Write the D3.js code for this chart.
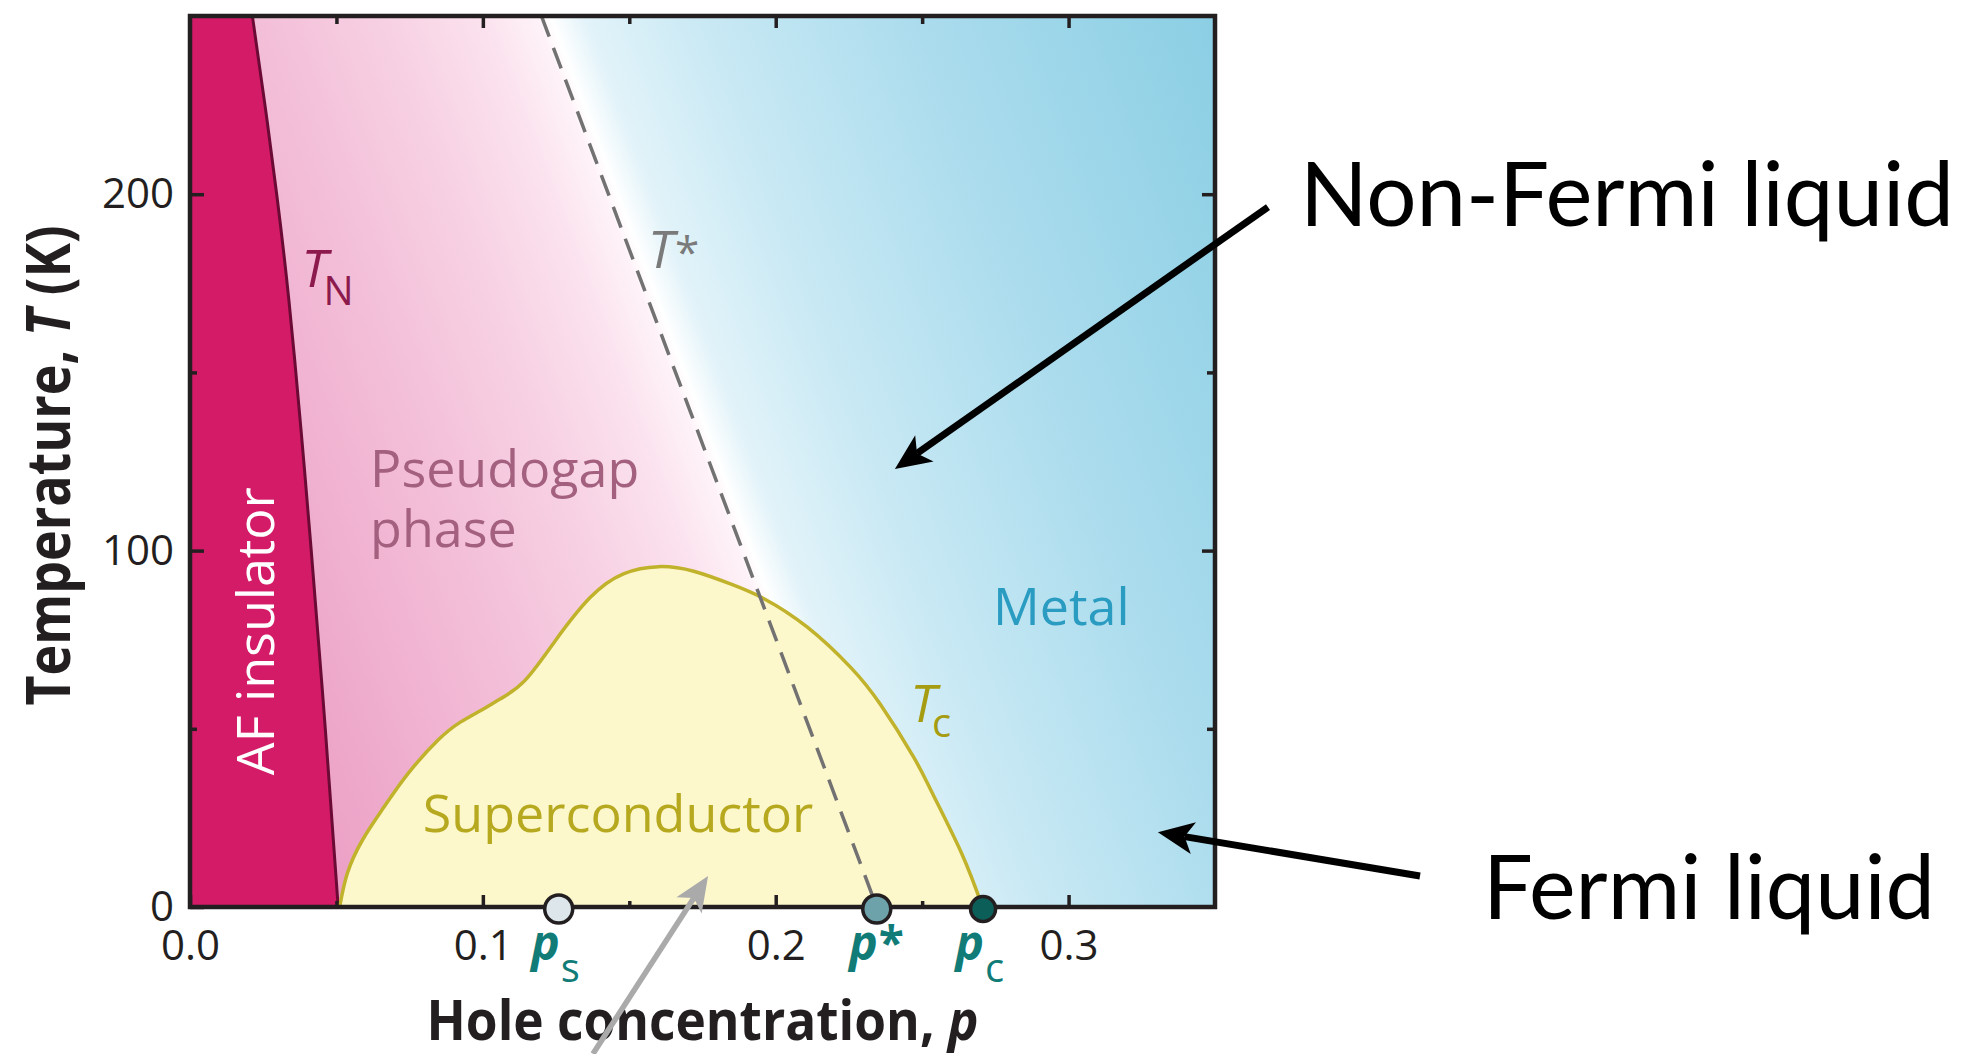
<!DOCTYPE html>
<html>
<head>
<meta charset="utf-8">
<script src="https://cdn.jsdelivr.net/npm/d3@7"></script>
<style>
body { margin: 0; background: #fff; }
svg { display: block; }
</style>
</head>
<body>
<div id="chart"></div>
<script>
var pTicks = [0, 0.1, 0.2, 0.3];
var pMinorTicks = [0.05, 0.15, 0.25];
var tTicks = [0, 100, 200];
var tMinorTicks = [50, 150];

// Neel temperature T_N(p), bottom to top
var tnLine = [[0.0506, 0], [0.0462, 50], [0.0414, 100], [0.0380, 133], [0.0338, 170],
	[0.0296, 200], [0.0256, 225], [0.0213, 250]];

// superconducting dome T_c(p)
var tcDome = [[0.0511, 0], [0.0537, 9.4], [0.0589, 18.8], [0.0663, 28.1], [0.0745, 37.5],
	[0.0848, 46.9], [0.0922, 51.8], [0.0996, 55.3], [0.1060, 58.4], [0.1144, 63.6],
	[0.1248, 74.8], [0.1367, 86.9], [0.1480, 93.5], [0.1600, 95.5], [0.1720, 94.2],
	[0.1850, 90.5], [0.1960, 86.5], [0.2108, 78.5], [0.2255, 67.3], [0.2356, 57],
	[0.2470, 42.2], [0.2535, 31.9], [0.2635, 15], [0.2706, 0]];

// pseudogap crossover T*(p)
var tStarLine = [[0.1200, 250], [0.2345, 0]];

var criticalNames = ["s", "*", "c"];
var criticalValues = [0.1259, 0.2345, 0.2708];

var W = 1987, H = 1054;
var fontMain = "'Open Sans', 'Noto Sans', sans-serif";
var fontNote = "Lato, 'Open Sans', sans-serif";
var ink = "#231f20";

var x = d3.scaleLinear().domain([0, 0.35]).range([190, 1215]);
var y = d3.scaleLinear().domain([0, 250]).range([907, 16]);

var svg = d3.select("#chart").append("svg").attr("width", W).attr("height", H)
		.style("background", "#fff");
var defs = svg.append("defs");

defs.append("clipPath").attr("id", "plotClip").append("rect")
		.attr("x", x(0)).attr("y", y(250)).attr("width", x(0.35) - x(0))
		.attr("height", y(0) - y(250));

// background gradient runs across the T* line (pink -> white -> blue)
var ax = x(tStarLine[0][0]), ay = y(tStarLine[0][1]);
var bx = x(tStarLine[1][0]), by = y(tStarLine[1][1]);
var vl = Math.sqrt((bx - ax) * (bx - ax) + (by - ay) * (by - ay));
var nx = (by - ay) / vl, ny = -(bx - ax) / vl;
var dMin = -510, dMax = 640;
var stops = [[-510, "#eb9fc4"], [-400, "#efadcd"], [-270, "#f3bed8"], [-150, "#f7d0e3"],
	[-60, "#fbe1ed"], [-5, "#fef2f8"], [8, "#ffffff"], [40, "#e2f3f9"],
	[150, "#c9e9f4"], [350, "#abdced"], [640, "#8acee4"]];

var grad = defs.append("linearGradient").attr("id", "bgGrad")
		.attr("gradientUnits", "userSpaceOnUse")
		.attr("x1", bx + nx * dMin).attr("y1", by + ny * dMin)
		.attr("x2", bx + nx * dMax).attr("y2", by + ny * dMax);
stops.forEach(function(s) {
	grad.append("stop").attr("offset", (s[0] - dMin) / (dMax - dMin)).attr("stop-color", s[1]);
});

var plot = svg.append("g").attr("clip-path", "url(#plotClip)");

plot.append("rect").attr("x", x(0)).attr("y", y(250)).attr("width", x(0.35) - x(0))
		.attr("height", y(0) - y(250)).style("fill", "url(#bgGrad)");

var curvePath = d3.line().x(function(d) { return x(d[0]); }).y(function(d) { return y(d[1]); })
		.curve(d3.curveNatural);

// AF insulator region
var afArea = d3.area().y(function(d) { return y(d[1]); }).x0(x(0))
		.x1(function(d) { return x(d[0]); }).curve(d3.curveNatural);
plot.append("path").datum(tnLine).attr("d", afArea).style("fill", "#d31b67");
plot.append("path").datum(tnLine).attr("d", curvePath).style("fill", "none")
		.style("stroke", "#6b0a34").style("stroke-width", 3);

// superconducting dome
var domeArea = d3.area().x(function(d) { return x(d[0]); }).y0(y(0))
		.y1(function(d) { return y(d[1]); }).curve(d3.curveNatural);
plot.append("path").datum(tcDome).attr("d", domeArea).style("fill", "#fdf7cc");
plot.append("path").datum(tcDome).attr("d", curvePath).style("fill", "none")
		.style("stroke", "#c1b22c").style("stroke-width", 3.5);

// T* dashed line
plot.append("path").datum(tStarLine).attr("d", d3.line()
		.x(function(d) { return x(d[0]); }).y(function(d) { return y(d[1]); }))
		.style("fill", "none").style("stroke", "#727272").style("stroke-width", 3.5)
		.style("stroke-dasharray", "22,12");

// region labels
var labels = plot.append("g").style("font-family", fontMain).style("font-size", "52px");

function regionText(txt, p, t, color) {
	return labels.append("text").attr("x", x(p)).attr("y", y(t)).text(txt).style("fill", color);
}
regionText("Pseudogap", 0.0615, 117.9, "#a4607f");
regionText("phase", 0.0615, 101.1, "#a4607f");
regionText("Superconductor", 0.0795, 21, "#b6a91f");
regionText("Metal", 0.2742, 79, "#2b9cc1");

labels.append("text").attr("transform", "translate(" + x(0.0287) + "," + y(37) + ") rotate(-90)")
		.text("AF insulator").style("fill", "#fff");

function tempLabel(sub, p, t, color, subDy) {
	var tx = labels.append("text").attr("x", x(p)).attr("y", y(t)).style("fill", color);
	tx.append("tspan").style("font-style", "italic").text("T");
	if (sub === "*") {
		tx.append("tspan").attr("dx", 1).style("font-size", "44px").text("*");
	} else {
		tx.append("tspan").attr("dx", -4).attr("dy", subDy).style("font-size", "40px").text(sub);
	}
}
tempLabel("N", 0.0381, 174, "#8c1a4c", 18);
tempLabel("*", 0.1564, 179.3, "#7a7a7a", 0);
tempLabel("c", 0.2459, 51.9, "#a69c12", 15);

// frame and ticks
svg.append("rect").attr("x", x(0)).attr("y", y(250)).attr("width", x(0.35) - x(0))
		.attr("height", y(0) - y(250)).style("fill", "none").style("stroke", ink)
		.style("stroke-width", 4.5);

function styleAxis(g) {
	g.select(".domain").remove();
	g.selectAll(".tick line").style("stroke", ink).style("stroke-width", 3.5);
	g.selectAll(".tick text").style("fill", ink).style("font-family", fontMain)
			.style("font-size", "42px");
}

svg.append("g").attr("transform", "translate(0," + y(0) + ")")
		.call(d3.axisBottom(x).tickValues(pTicks).tickSize(-12).tickPadding(23)
		.tickFormat(d3.format(".1f"))).call(styleAxis);
svg.append("g").attr("transform", "translate(0," + y(0) + ")")
		.call(d3.axisBottom(x).tickValues(pMinorTicks).tickSize(-6).tickFormat("")).call(styleAxis);
svg.append("g").attr("transform", "translate(0," + y(250) + ")")
		.call(d3.axisTop(x).tickValues(pTicks.slice(1)).tickSize(-12).tickFormat("")).call(styleAxis);
svg.append("g").attr("transform", "translate(0," + y(250) + ")")
		.call(d3.axisTop(x).tickValues(pMinorTicks).tickSize(-8).tickFormat("")).call(styleAxis);
svg.append("g").attr("transform", "translate(" + x(0) + ",0)")
		.call(d3.axisLeft(y).tickValues(tTicks).tickSize(-14).tickPadding(16)
		.tickFormat(d3.format("d"))).call(styleAxis);
svg.append("g").attr("transform", "translate(" + x(0) + ",0)")
		.call(d3.axisLeft(y).tickValues(tMinorTicks).tickSize(-7).tickFormat("")).call(styleAxis);
svg.append("g").attr("transform", "translate(" + x(0.35) + ",0)")
		.call(d3.axisRight(y).tickValues(tTicks.slice(1)).tickSize(-13).tickFormat("")).call(styleAxis);
svg.append("g").attr("transform", "translate(" + x(0.35) + ",0)")
		.call(d3.axisRight(y).tickValues(tMinorTicks).tickSize(-8).tickFormat("")).call(styleAxis);

// critical points on the axis
var dotFill = ["#dde6ea", "#6ea2aa", "#0c5e59"], dotR = [14, 14, 12.5];
var crit = svg.append("g");
criticalValues.forEach(function(p, i) {
	crit.append("circle").attr("cx", x(p)).attr("cy", y(0) + 2).attr("r", dotR[i])
			.style("fill", dotFill[i]).style("stroke", ink).style("stroke-width", 3.5);
	crit.append("text").attr("x", x(p) + 1).attr("y", 960).attr("text-anchor", "end")
			.style("font-family", fontMain).style("font-size", "48px").style("font-weight", "bold")
			.style("font-style", "italic").style("fill", "#117c77").text("p");
	var sub = crit.append("text").attr("x", x(p) + 2).style("font-family", fontMain)
			.style("fill", "#117c77").text(criticalNames[i]);
	if (criticalNames[i] === "*") {
		sub.attr("y", 960).style("font-size", "46px").style("font-weight", "bold");
	} else {
		sub.attr("y", 982).style("font-size", "40px");
	}
});

// axis titles
svg.append("text").attr("x", (x(0) + x(0.35)) / 2).attr("y", 1040).attr("text-anchor", "middle")
		.attr("textLength", 552).attr("lengthAdjust", "spacingAndGlyphs")
		.style("font-family", fontMain).style("font-size", "56px").style("font-weight", "bold")
		.style("fill", ink).text("Hole concentration, ")
		.append("tspan").style("font-style", "italic").text("p");

var yTitle = svg.append("text").attr("transform", "translate(70," + ((y(0) + y(250)) / 2 + 4) + ") rotate(-90)")
		.attr("text-anchor", "middle").attr("textLength", 480).attr("lengthAdjust", "spacingAndGlyphs")
		.style("font-family", fontMain).style("font-size", "60px").style("font-weight", "bold")
		.style("fill", ink);
yTitle.append("tspan").text("Temperature, ");
yTitle.append("tspan").style("font-style", "italic").text("T");
yTitle.append("tspan").text(" (K)");

// annotation arrows
function arrow(from, to, color, w, L, hw) {
	var x0 = x(from[0]), y0 = y(from[1]), x1 = x(to[0]), y1 = y(to[1]);
	var dx = x1 - x0, dy = y1 - y0, len = Math.sqrt(dx * dx + dy * dy);
	var ux = dx / len, uy = dy / len, notch = L * 0.25;
	var g = svg.append("g");
	g.append("line").attr("x1", x0).attr("y1", y0)
			.attr("x2", x1 - ux * (L - notch)).attr("y2", y1 - uy * (L - notch))
			.style("stroke", color).style("stroke-width", w);
	g.append("path").attr("d", "M" + x1 + "," + y1
			+ "L" + (x1 - ux * L - uy * hw) + "," + (y1 - uy * L + ux * hw)
			+ "L" + (x1 - ux * (L - notch)) + "," + (y1 - uy * (L - notch))
			+ "L" + (x1 - ux * L + uy * hw) + "," + (y1 - uy * L - ux * hw) + "Z")
			.style("fill", color);
}
arrow([0.3681, 196.4], [0.2407, 122.9], "#000", 7, 36, 16);
arrow([0.4200, 8.7], [0.3305, 21.0], "#000", 7, 36, 16);
arrow([0.1376, -41.2], [0.1769, 8.7], "#aaaaaa", 5.5, 35, 15);

svg.append("text").attr("x", x(0.379)).attr("y", y(191.1)).attr("textLength", 654)
		.attr("lengthAdjust", "spacingAndGlyphs").style("font-family", fontNote)
		.style("font-size", "90px").style("fill", "#000").text("Non-Fermi liquid");
svg.append("text").attr("x", x(0.4415)).attr("y", y(-3.37)).attr("textLength", 452)
		.attr("lengthAdjust", "spacingAndGlyphs").style("font-family", fontNote)
		.style("font-size", "90px").style("fill", "#000").text("Fermi liquid");
</script>
</body>
</html>
